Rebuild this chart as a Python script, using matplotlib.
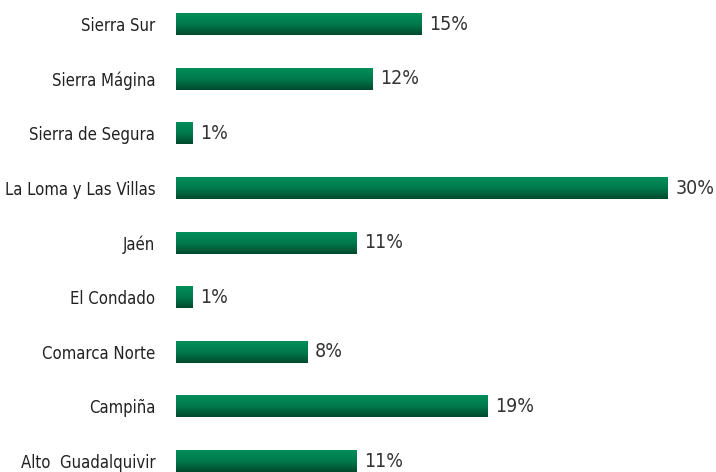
import numpy as np
import matplotlib.pyplot as plt
from matplotlib import font_manager
from matplotlib.colors import LinearSegmentedColormap

# comarcas, de abajo a arriba
comarcas = ["Alto  Guadalquivir", "Campiña", "Comarca Norte", "El Condado", "Jaén",
            "La Loma y Las Villas", "Sierra de Segura", "Sierra Mágina", "Sierra Sur"]
porcentajes = [11, 19, 8, 1, 11, 30, 1, 12, 15]

# buscar una fuente estrecha si hay alguna
estrecha = None
for f in font_manager.fontManager.ttflist:
    nombre = f.fname.lower()
    if "narrow" in nombre or "condensed" in nombre:
        if "bold" not in nombre and "oblique" not in nombre and "italic" not in nombre:
            estrecha = f.fname
            break
fp = font_manager.FontProperties(fname=estrecha) if estrecha else font_manager.FontProperties(family="DejaVu Sans")

fig = plt.figure(figsize=(7.16, 4.72), dpi=100)
ax = fig.add_axes([176 / 716, 0, 540 / 716, 1])
ax.set_xlim(0, 30 * 540 / 492)
ax.set_ylim(-0.201, 8.443)

# degradado vertical de las barras
cmap = LinearSegmentedColormap.from_list("verde", ["#004a2e", "#007a4c", "#008e5a"])
grad = np.linspace(0, 1, 64).reshape(-1, 1)
alto = 0.4
for i, v in enumerate(porcentajes):
    ax.imshow(grad, cmap=cmap, aspect="auto", origin="lower",
              extent=(0, v, i - alto / 2, i + alto / 2), interpolation="bilinear")
    t = ax.text(v + 0.45, i, f"{v}%", va="center", ha="left", color="#333333",
                fontproperties=fp)
    t.set_fontsize(14)

ax.set_yticks(range(len(comarcas)))
ax.set_yticklabels(comarcas, color="#222222")
for lab in ax.get_yticklabels():
    lab.set_fontproperties(fp)
    lab.set_fontsize(12)
ax.tick_params(axis="y", length=0, pad=15)
ax.set_xticks([])
for s in ax.spines.values():
    s.set_visible(False)

fig.savefig("out.png", dpi=100)
